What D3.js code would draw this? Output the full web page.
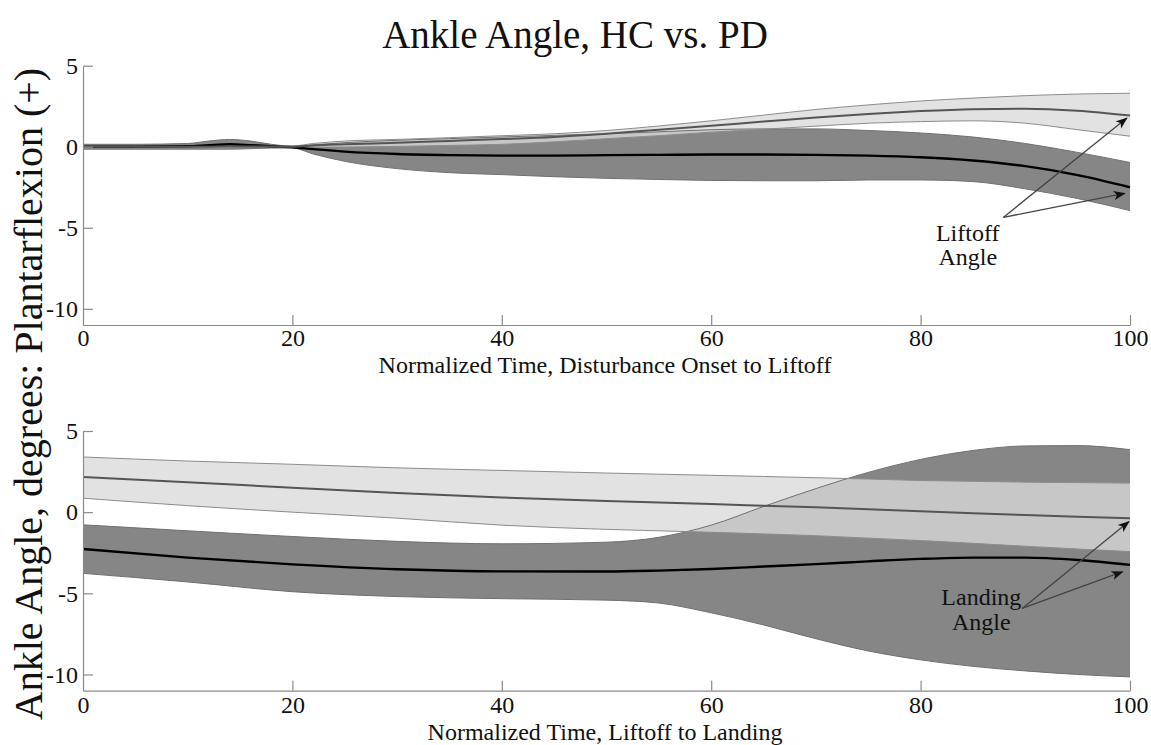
<!DOCTYPE html>
<html>
<head>
<meta charset="utf-8">
<script src="https://cdn.jsdelivr.net/npm/d3@7"></script>
<style>
  body { margin: 0; background: #fff; }
  svg text { font-family: "Liberation Serif", "Times New Roman", serif; fill: #111; }
</style>
</head>
<body>
<svg id="chart" width="1151" height="745"></svg>
<script>
// ---- Phase 1: disturbance onset to liftoff (normalized time, %) ----
const tOnset = [0, 5, 10, 12, 14, 16, 18, 20, 22, 25, 30, 35, 40, 45, 50, 55, 60, 65, 70, 75, 80, 85, 90, 95, 100];

// PD group (dark band): mean and +/- SD bounds, degrees
const pdOnsetUpper = [0.15, 0.15, 0.2, 0.35, 0.45, 0.35, 0.15, 0.03, 0.12, 0.25, 0.4, 0.5, 0.6, 0.7, 0.8, 0.92, 1.05, 1.1, 1.1, 1.0, 0.85, 0.6, 0.2, -0.35, -0.97];
const pdOnsetMean  = [0, 0, 0.03, 0.1, 0.15, 0.1, 0.03, -0.03, -0.15, -0.3, -0.45, -0.52, -0.55, -0.55, -0.52, -0.5, -0.48, -0.48, -0.5, -0.55, -0.65, -0.85, -1.2, -1.75, -2.5];
const pdOnsetLower = [-0.15, -0.15, -0.15, -0.15, -0.15, -0.12, -0.08, -0.08, -0.45, -0.9, -1.35, -1.6, -1.72, -1.85, -1.95, -2.02, -2.08, -2.1, -2.1, -2.05, -2.05, -2.15, -2.6, -3.2, -3.94];

// HC group (light band)
const hcOnsetUpper = [0.08, 0.08, 0.08, 0.08, 0.1, 0.1, 0.08, 0.05, 0.2, 0.35, 0.45, 0.56, 0.68, 0.8, 1.0, 1.28, 1.6, 1.95, 2.3, 2.58, 2.82, 3.0, 3.15, 3.25, 3.3];
const hcOnsetMean  = [0, 0, 0, 0, 0.02, 0.02, 0.01, 0, 0.08, 0.15, 0.25, 0.36, 0.47, 0.6, 0.8, 1.05, 1.3, 1.55, 1.8, 2.02, 2.2, 2.32, 2.35, 2.22, 1.92];
const hcOnsetLower = [-0.08, -0.08, -0.08, -0.08, -0.08, -0.06, -0.05, -0.05, -0.03, -0.02, 0.02, 0.08, 0.15, 0.3, 0.5, 0.68, 0.9, 1.08, 1.27, 1.45, 1.55, 1.6, 1.45, 1.05, 0.65];

// ---- Phase 2: liftoff to landing ----
const tFlight = [0, 10, 20, 30, 40, 50, 55, 60, 65, 70, 75, 80, 85, 90, 95, 100];

const pdFlightUpper = [-0.78, -1.15, -1.5, -1.8, -1.95, -1.85, -1.55, -0.8, 0.35, 1.45, 2.45, 3.25, 3.8, 4.08, 4.1, 3.85];
const pdFlightMean  = [-2.27, -2.8, -3.22, -3.52, -3.65, -3.66, -3.6, -3.5, -3.35, -3.2, -3.03, -2.88, -2.8, -2.8, -2.95, -3.25];
const pdFlightLower = [-3.77, -4.3, -4.9, -5.2, -5.33, -5.42, -5.6, -6.2, -6.95, -7.8, -8.55, -9.1, -9.5, -9.78, -10.0, -10.15];

const hcFlightUpper = [3.4, 3.15, 2.95, 2.73, 2.57, 2.41, 2.34, 2.27, 2.2, 2.12, 2.04, 1.95, 1.9, 1.85, 1.82, 1.79];
const hcFlightMean  = [2.16, 1.85, 1.5, 1.18, 0.9, 0.68, 0.59, 0.5, 0.4, 0.3, 0.18, 0.05, -0.07, -0.18, -0.28, -0.37];
const hcFlightLower = [0.86, 0.4, 0.0, -0.37, -0.8, -1.06, -1.15, -1.24, -1.34, -1.45, -1.6, -1.75, -1.92, -2.1, -2.27, -2.43];

// Axis ticks
const xTicks = [0, 20, 40, 60, 80, 100];
const yTicks = [5, 0, -5, -10];
const yDomain = [-11, 5];

// Annotation arrows: tail and heads in data units, label anchor in data units
const liftoffArrow = { tail: [87.9, -4.36], heads: [[99.7, 1.77], [99.5, -2.88]], label: ["Liftoff", "Angle"], at: [84.5, -5.8], gap: 24 };
const landingArrow = { tail: [89.7, -5.93], heads: [[99.9, -0.58], [99.3, -3.67]], label: ["Landing", "Angle"], at: [85.8, -5.7], gap: 25 };

const svg = d3.select("#chart");

svg.append("defs").append("marker")
  .attr("id", "head")
  .attr("viewBox", "0 -5 12 10")
  .attr("refX", 11).attr("refY", 0)
  .attr("markerWidth", 12).attr("markerHeight", 10)
  .attr("markerUnits", "userSpaceOnUse")
  .attr("orient", "auto")
  .append("path")
  .attr("d", "M0,-4.5L12,0L0,4.5L3,0Z")
  .attr("fill", "#111");

const x = d3.scaleLinear().domain([0, 100]).range([83, 1130]);

function drawPanel(cfg) {
  const y = d3.scaleLinear().domain(yDomain).range([cfg.bottom, cfg.top]);
  const g = svg.append("g");

  const rows = (t, lo, mid, hi) => t.map((v, i) => ({ t: v, lo: lo[i], mid: mid[i], hi: hi[i] }));
  const pd = rows(cfg.t, cfg.pd[2], cfg.pd[1], cfg.pd[0]);
  const hc = rows(cfg.t, cfg.hc[2], cfg.hc[1], cfg.hc[0]);

  const curve = d3.curveMonotoneX;
  const band = d3.area().x(d => x(d.t)).y0(d => y(d.lo)).y1(d => y(d.hi)).curve(curve);
  const line = key => d3.line().x(d => x(d.t)).y(d => y(d[key])).curve(curve);

  // PD band underneath
  g.append("path").datum(pd).attr("d", band).attr("fill", "#868686");
  // HC band drawn translucent on top
  g.append("path").datum(hc).attr("d", band).attr("fill", "#dadada").attr("fill-opacity", 0.78);

  // band edges
  ["hi", "lo"].forEach(k => {
    g.append("path").datum(pd).attr("d", line(k)).attr("fill", "none").attr("stroke", "#707070").attr("stroke-width", 1);
    g.append("path").datum(hc).attr("d", line(k)).attr("fill", "none").attr("stroke", "#8c8c8c").attr("stroke-width", 1);
  });

  // group means
  g.append("path").datum(pd).attr("d", line("mid")).attr("fill", "none").attr("stroke", "#000").attr("stroke-width", 2.4);
  g.append("path").datum(hc).attr("d", line("mid")).attr("fill", "none").attr("stroke", "#555").attr("stroke-width", 2);

  // axes
  const xAxis = d3.axisBottom(x).tickValues(xTicks).tickFormat(d3.format("d"))
    .tickSizeInner(-10).tickSizeOuter(0).tickPadding(cfg.xPad);
  const ax = g.append("g").attr("transform", `translate(0,${cfg.bottom})`).call(xAxis);
  const yAxis = d3.axisLeft(y).tickValues(yTicks).tickFormat(d3.format("d"))
    .tickSizeInner(-10).tickSizeOuter(0).tickPadding(5);
  const ay = g.append("g").attr("transform", `translate(${x(0)},0)`).call(yAxis);
  [ax, ay].forEach(a => {
    a.select(".domain").attr("stroke", "#8a8a8a").attr("stroke-width", 1.2);
    a.selectAll(".tick line").attr("stroke", "#8a8a8a").attr("stroke-width", 1.2);
    a.selectAll(".tick text").attr("font-size", 24).attr("font-family", "Liberation Serif").attr("fill", "#111");
  });
  ax.selectAll(".tick").filter(d => d === 0).select("line").remove();
  ay.selectAll(".tick text").text(d => d < 0 ? "-" + Math.abs(d) : d);

  // x-axis title
  g.append("text").attr("x", 605).attr("y", cfg.titleY).attr("text-anchor", "middle")
    .attr("font-size", 24).text(cfg.xTitle);

  // annotation
  const a = cfg.arrow;
  a.heads.forEach(h => {
    g.append("line")
      .attr("x1", x(a.tail[0])).attr("y1", y(a.tail[1]))
      .attr("x2", x(h[0])).attr("y2", y(h[1]))
      .attr("stroke", "#444").attr("stroke-width", 1.3)
      .attr("marker-end", "url(#head)");
  });
  const lbl = g.append("text").attr("text-anchor", "middle").attr("font-size", 24);
  a.label.forEach((s, i) => {
    lbl.append("tspan").attr("x", x(a.at[0])).attr("y", y(a.at[1]) + i * a.gap).text(s);
  });
}

drawPanel({
  t: tOnset,
  pd: [pdOnsetUpper, pdOnsetMean, pdOnsetLower],
  hc: [hcOnsetUpper, hcOnsetMean, hcOnsetLower],
  top: 65.7, bottom: 325, xPad: 4, titleY: 373,
  xTitle: "Normalized Time, Disturbance Onset to Liftoff",
  arrow: liftoffArrow
});

drawPanel({
  t: tFlight,
  pd: [pdFlightUpper, pdFlightMean, pdFlightLower],
  hc: [hcFlightUpper, hcFlightMean, hcFlightLower],
  top: 431, bottom: 690.7, xPad: 5.3, titleY: 740,
  xTitle: "Normalized Time, Liftoff to Landing",
  arrow: landingArrow
});

// figure title and shared y label
svg.append("text").attr("x", 575).attr("y", 48).attr("text-anchor", "middle")
  .attr("font-size", 39).text("Ankle Angle, HC vs. PD");

svg.append("text").attr("transform", "translate(42,394) rotate(-90)")
  .attr("text-anchor", "middle").attr("font-size", 40)
  .text("Ankle Angle, degrees: Plantarflexion (+)");
</script>
</body>
</html>
